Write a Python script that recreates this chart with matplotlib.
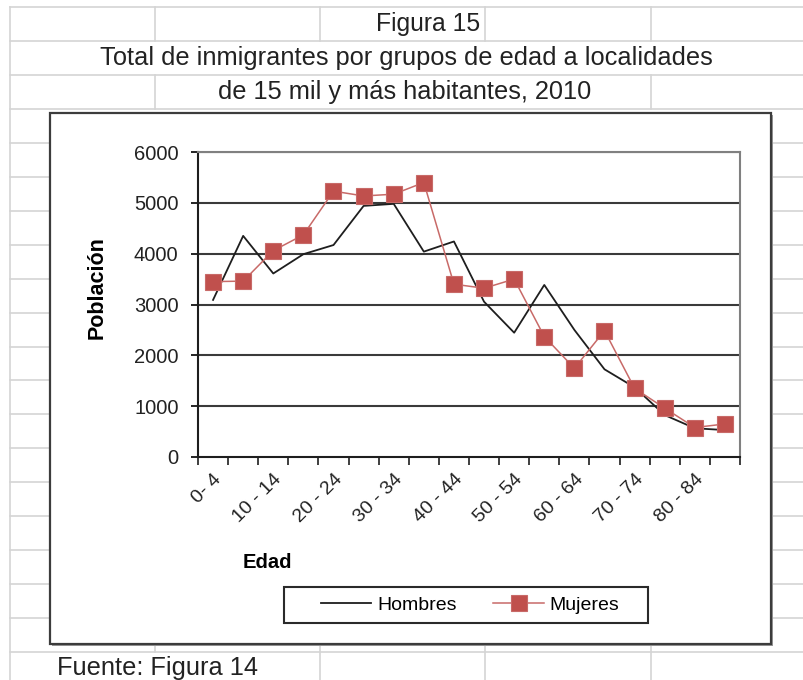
import numpy as np
import matplotlib
matplotlib.use("Agg")
import matplotlib.pyplot as plt
import matplotlib.patches as mpatches
from matplotlib.ticker import MultipleLocator, FixedLocator

plt.rcParams['font.family'] = ['Liberation Sans', 'DejaVu Sans']

# data
edades = ["0- 4", "5 - 9", "10 - 14", "15 - 19", "20 - 24", "25 - 29", "30 - 34", "35 - 39",
          "40 - 44", "45 - 49", "50 - 54", "55 - 59", "60 - 64", "65 - 69", "70 - 74",
          "75 - 79", "80 - 84", "85 y más"]
hombres = [3090, 4350, 3610, 3990, 4170, 4940, 4980, 4040, 4240, 3055, 2445, 3385,
           2500, 1725, 1370, 825, 565, 530]
mujeres = [3450, 3460, 4060, 4370, 5230, 5135, 5170, 5400, 3400, 3320, 3500, 2370,
           1745, 2485, 1350, 960, 580, 650]
y_ticks = [0, 1000, 2000, 3000, 4000, 5000, 6000]

W, H = 804, 680
fig = plt.figure(figsize=(W/100, H/100), dpi=100)

#spreadsheet background (pixel coords)
bg = fig.add_axes([0, 0, 1, 1])
bg.set_xlim(0, W); bg.set_ylim(H, 0); bg.axis("off")
grid_c = "#d4d4d4"
rows = 7 + 33.95*np.arange(20)
for y in rows:
    if y < 110 or y > 645:
        bg.plot([10, W], [y, y], color=grid_c, lw=1.2, zorder=1)
    else:
        bg.plot([10, 50], [y, y], color=grid_c, lw=1.2, zorder=1)
        bg.plot([771, W], [y, y], color=grid_c, lw=1.2, zorder=1)
bg.plot([10, 10], [7, H], color=grid_c, lw=1.2, zorder=1)
for x in [155, 320, 485, 651]:
    bg.plot([x, x], [7, 41], color=grid_c, lw=1.2, zorder=1)
for x in [155, 651]:
    bg.plot([x, x], [75, 109], color=grid_c, lw=1.2, zorder=1)
bg.plot([155, 155], [644, 652], color=grid_c, lw=1.2, zorder=1)
for x in [320, 485, 651]:
    bg.plot([x, x], [644, H], color=grid_c, lw=1.2, zorder=1)
bg.add_patch(mpatches.Rectangle((52, 115), 721, 531, facecolor="#9a9a9a", edgecolor="none", zorder=2))
bg.add_patch(mpatches.Rectangle((50, 113), 721, 531, facecolor="white", edgecolor="#3c3c3c", lw=1.6, zorder=3))
#legend frame
bg.add_patch(mpatches.Rectangle((284, 587), 364, 36, facecolor="white", edgecolor="#2a2a2a", lw=1.5, zorder=4))

bg.text(428, 24, "Figura 15", ha="center", va="center", fontsize=17.8, color="#222222")
bg.text(406, 58, "Total de inmigrantes por grupos de edad a localidades", ha="center", va="center", fontsize=18.3, color="#222222")
bg.text(405, 92, "de 15 mil y más habitantes, 2010", ha="center", va="center", fontsize=18.3, color="#222222")
bg.text(57, 668, "Fuente: Figura 14", ha="left", va="center", fontsize=18.3, color="#222222")

#plot area
ax = fig.add_axes([198/W, 1-457/H, 542/W, 305/H])
x = np.arange(len(edades))
for yv in y_ticks[1:]:
    ax.axhline(yv, color="#3a3a3a", lw=1.5, zorder=1)
ax.plot(x, hombres, color="#1e1e1e", lw=1.3, zorder=3, label="Hombres")
ax.plot(x, mujeres, color="#c86a68", lw=1.1, marker="s", markersize=11.5,
        markerfacecolor="#c0504d", markeredgecolor="#c86a68", markeredgewidth=0.8, zorder=4, label="Mujeres")
ax.set_xlim(-0.5, len(edades)-0.5)
ax.set_ylim(0, 6000)
ax.set_yticks(y_ticks)
ax.set_xticks(x[::2])
ax.set_xticklabels(edades[::2], rotation=45, ha="right", va="top", rotation_mode="anchor", fontsize=14, color="#222222")
ax.xaxis.set_minor_locator(FixedLocator(np.arange(-0.5, len(edades), 1)))
ax.tick_params(axis="x", which="major", length=0, pad=10)
ax.tick_params(axis="x", which="minor", length=6, width=1.2, direction="out", color="#1e1e1e")
ax.tick_params(axis="y", length=5, width=1.2, pad=9, labelsize=14.5, labelcolor="#222222")
for s in ["left", "bottom"]:
    ax.spines[s].set_linewidth(1.5)
    ax.spines[s].set_color("#1e1e1e")
for s in ["top", "right"]:
    ax.spines[s].set_linewidth(1.5)
    ax.spines[s].set_color("#808080")

fig.text(97/W, 1-288/H, "Población", rotation=90, ha="center", va="center", fontsize=15.5, fontweight="bold")
fig.text(267/W, 1-562/H, "Edad", ha="center", va="center", fontsize=14.5, fontweight="bold")

leg = fig.legend(loc="center", bbox_to_anchor=(470/W, 1-605/H), ncol=2, fontsize=14,
                 frameon=False, handlelength=2.6, handletextpad=0.3, columnspacing=1.9)

fig.savefig("out.png", dpi=100)
